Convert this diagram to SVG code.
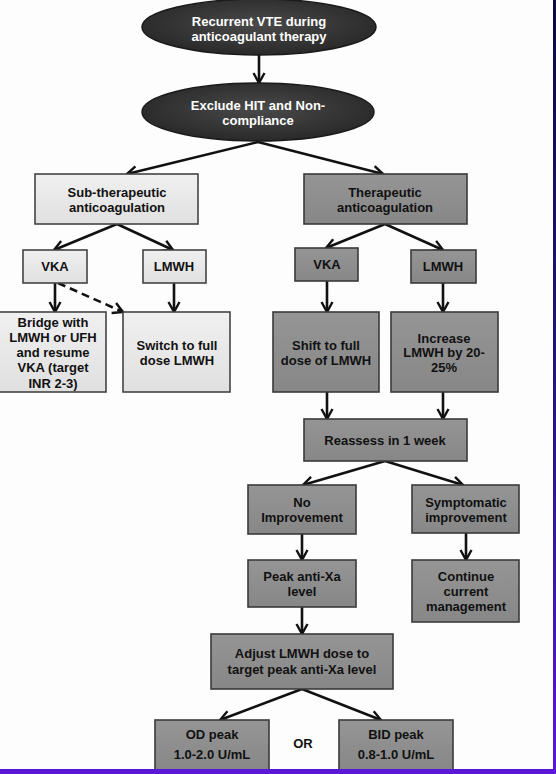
<svg xmlns="http://www.w3.org/2000/svg" width="556" height="774" viewBox="0 0 556 774">
<defs>
<style>
text{font-family:"Liberation Sans",Arial,sans-serif;font-weight:bold;font-size:13px;text-anchor:middle;dominant-baseline:central;fill:#111}
.ell{fill:url(#eg);stroke:#1a1a1a;stroke-width:1.5}
.ell text,.wt{fill:#fff}
.lb{fill:url(#lg);stroke:#444;stroke-width:1.6}
.db{fill:url(#dg);stroke:#3a3a3a;stroke-width:1.6}
.c{stroke:#111;stroke-width:2.6;fill:none;marker-end:url(#ah)}
.d{stroke-dasharray:8,5}
</style>
<radialGradient id="eg" cx="50%" cy="45%" r="60%">
<stop offset="0" stop-color="#4a4a4a"/><stop offset="1" stop-color="#262626"/>
</radialGradient>
<linearGradient id="lg" x1="0" y1="0" x2="0" y2="1">
<stop offset="0" stop-color="#f0f0f0"/><stop offset="1" stop-color="#e0e0e0"/>
</linearGradient>
<linearGradient id="dg" x1="0" y1="0" x2="0" y2="1">
<stop offset="0" stop-color="#959595"/><stop offset="1" stop-color="#878787"/>
</linearGradient>
<linearGradient id="edge" x1="0" y1="0" x2="0" y2="1">
<stop offset="0" stop-color="#0a0a40"/><stop offset="0.6" stop-color="#2a1690"/><stop offset="1" stop-color="#5a18d8"/>
</linearGradient>
<marker id="ah" markerUnits="userSpaceOnUse" markerWidth="14" markerHeight="14" viewBox="0 0 14 14" refX="12" refY="7" orient="auto">
<path d="M2,1.5 L12,7 L2,12.5" fill="none" stroke="#111" stroke-width="2.4"/>
</marker>
</defs>
<rect width="556" height="774" fill="#fdfdfd"/>
<rect x="553" y="0" width="3" height="774" fill="url(#edge)"/>
<rect x="0" y="769" width="556" height="5" fill="#5a18d6"/>

<g id="connectors">
<path class="c" d="M259,55 V83"/>
<path class="c" d="M258,142 L127,174"/>
<path class="c" d="M258,142 L383,174"/>
<path class="c" d="M117,224 L54,250"/>
<path class="c" d="M117,224 L173,250"/>
<path class="c" d="M385,224 L326,248"/>
<path class="c" d="M385,224 L443,250"/>
<path class="c" d="M55,283 V312"/>
<path class="c d" d="M58,283 L123,312"/>
<path class="c" d="M174,283 V312"/>
<path class="c" d="M327,281 V312"/>
<path class="c" d="M443,283 V312"/>
<path class="c" d="M327,392 V419"/>
<path class="c" d="M443,392 V419"/>
<path class="c" d="M385,461 L303,485"/>
<path class="c" d="M385,461 L463,485"/>
<path class="c" d="M302,534 V560"/>
<path class="c" d="M466,533 V560"/>
<path class="c" d="M302,607 V634"/>
<path class="c" d="M302,689 L220,720"/>
<path class="c" d="M302,689 L381,720"/>
</g>

<g id="n-recurrent">
<ellipse class="ell" cx="259" cy="27" rx="117" ry="28"/>
<text class="wt" x="259" y="21">Recurrent VTE during</text>
<text class="wt" x="259" y="36">anticoagulant therapy</text>
</g>
<g id="n-exclude">
<ellipse class="ell" cx="258" cy="112" rx="116" ry="29"/>
<text class="wt" x="258" y="105">Exclude HIT and Non-</text>
<text class="wt" x="258" y="120">compliance</text>
</g>
<g id="n-subther">
<rect class="lb" x="35" y="174" width="163" height="50"/>
<text x="117" y="192">Sub-therapeutic</text>
<text x="117" y="207">anticoagulation</text>
</g>
<g id="n-ther">
<rect class="db" x="304" y="174" width="163" height="50"/>
<text x="385" y="192">Therapeutic</text>
<text x="385" y="207">anticoagulation</text>
</g>
<g id="n-vka-l">
<rect class="lb" x="23" y="250" width="64" height="33"/>
<text x="55" y="266">VKA</text>
</g>
<g id="n-lmwh-l">
<rect class="lb" x="143" y="250" width="63" height="33"/>
<text x="174" y="266">LMWH</text>
</g>
<g id="n-vka-r">
<rect class="db" x="295" y="248" width="63" height="33"/>
<text x="327" y="264">VKA</text>
</g>
<g id="n-lmwh-r">
<rect class="db" x="411" y="250" width="65" height="33"/>
<text x="443" y="266">LMWH</text>
</g>
<g id="n-bridge">
<rect class="lb" x="-2" y="312" width="108" height="80"/>
<text x="53" y="322">Bridge with</text>
<text x="53" y="337">LMWH or UFH</text>
<text x="53" y="352">and resume</text>
<text x="53" y="367">VKA (target</text>
<text x="53" y="383">INR 2-3)</text>
</g>
<g id="n-switch">
<rect class="lb" x="123" y="312" width="107" height="80"/>
<text x="177" y="345">Switch to full</text>
<text x="177" y="360">dose LMWH</text>
</g>
<g id="n-shift">
<rect class="db" x="273" y="312" width="106" height="80"/>
<text x="326" y="345">Shift to full</text>
<text x="326" y="360">dose of LMWH</text>
</g>
<g id="n-increase">
<rect class="db" x="391" y="312" width="107" height="80"/>
<text x="444" y="338">Increase</text>
<text x="444" y="352">LMWH by 20-</text>
<text x="444" y="367">25%</text>
</g>
<g id="n-reassess">
<rect class="db" x="304" y="419" width="163" height="42"/>
<text x="385" y="440">Reassess in 1 week</text>
</g>
<g id="n-noimp">
<rect class="db" x="248" y="485" width="108" height="49"/>
<text x="302" y="502">No</text>
<text x="302" y="517">Improvement</text>
</g>
<g id="n-symp">
<rect class="db" x="412" y="485" width="107" height="48"/>
<text x="466" y="502">Symptomatic</text>
<text x="466" y="517">improvement</text>
</g>
<g id="n-peak">
<rect class="db" x="248" y="560" width="108" height="47"/>
<text x="302" y="576">Peak anti-Xa</text>
<text x="302" y="591">level</text>
</g>
<g id="n-continue">
<rect class="db" x="412" y="560" width="107" height="62"/>
<text x="466" y="576">Continue</text>
<text x="466" y="591">current</text>
<text x="466" y="606">management</text>
</g>
<g id="n-adjust">
<rect class="db" x="211" y="634" width="182" height="55"/>
<text x="302" y="653">Adjust LMWH dose to</text>
<text x="302" y="669">target peak anti-Xa level</text>
</g>
<g id="n-od">
<rect class="db" x="155" y="720" width="114" height="52"/>
<text x="212" y="734">OD peak</text>
<text x="212" y="754">1.0-2.0 U/mL</text>
</g>
<g id="n-or">
<text x="303" y="743">OR</text>
</g>
<g id="n-bid">
<rect class="db" x="339" y="720" width="114" height="52"/>
<text x="396" y="734">BID peak</text>
<text x="396" y="754">0.8-1.0 U/mL</text>
</g>
<rect x="0" y="769" width="556" height="5" fill="#5a18d6"/>
</svg>
